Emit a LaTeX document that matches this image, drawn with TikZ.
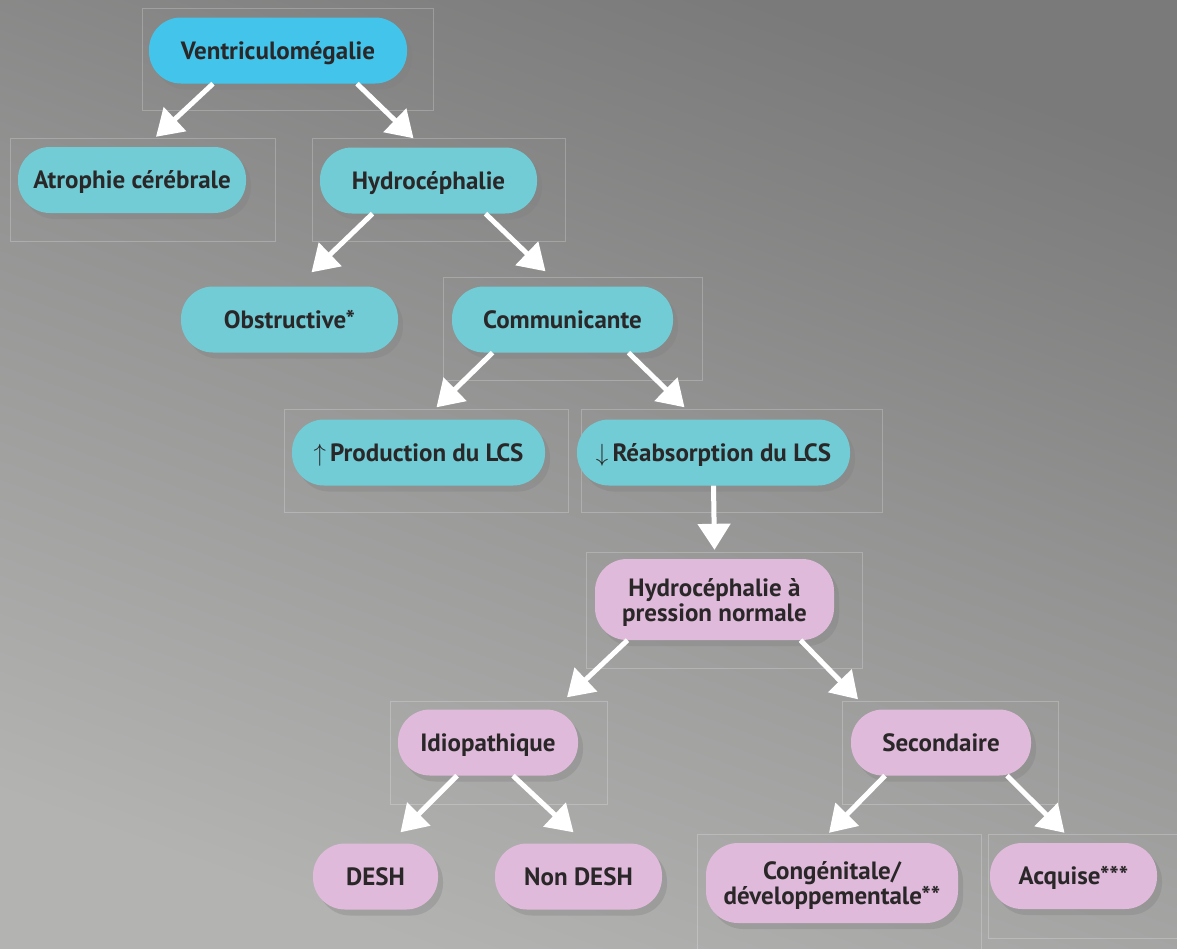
\documentclass[tikz,border=0pt]{standalone}
\usepackage{fontspec}
\setmainfont{PT Sans}
\usetikzlibrary{arrows.meta,shadows}
\definecolor{cyanbox}{HTML}{43C4EA}
\definecolor{tealbox}{HTML}{71CCD5}
\definecolor{pinkbox}{HTML}{E0BADA}
\definecolor{txt}{HTML}{2A2729}
\definecolor{bgtop}{HTML}{7A7A7A}
\definecolor{bgbot}{HTML}{B3B4B2}
\begin{document}
\begin{tikzpicture}[x=1pt,y=-1pt]
\tikzstyle{pill}=[rounded corners=32pt, minimum height=66pt, inner sep=0pt, align=center, text=txt, font=\fontsize{25}{25}\selectfont\bfseries, text height=19pt, text depth=2pt, drop shadow={shadow xshift=5pt,shadow yshift=-6pt,opacity=0.35}]
\tikzstyle{twoline}=[minimum height=81pt, text height=45pt, text depth=2pt]
\tikzstyle{frame}=[draw=white, draw opacity=0.22, line width=0.8pt]
\tikzstyle{arr}=[draw=white, line width=5pt, -{Triangle[length=26pt,width=32pt]}]
\useasboundingbox (0,0) rectangle (1177,948);
\shade[top color=bgtop, bottom color=bgbot, shading angle=-20] (0,0) rectangle (1177,948);

% frames
\draw[frame] (142,8) rectangle (433,110);
\draw[frame] (10,138) rectangle (275,241);
\draw[frame] (312,138) rectangle (565,241);
\draw[frame] (443,277) rectangle (702,380);
\draw[frame] (284,409) rectangle (568,512);
\draw[frame] (581,409) rectangle (882,512);
\draw[frame] (586,552) rectangle (862,668);
\draw[frame] (390,701) rectangle (607,804);
\draw[frame] (842,701) rectangle (1058,804);
\draw[frame] (697,834) rectangle (981,960);
\draw[frame] (988,834) rectangle (1190,938);

% nodes
\node[pill, fill=cyanbox, minimum width=258pt] (ventr) at (278,50.5) {Ventriculomégalie};
\node[pill, fill=tealbox, minimum width=228pt] (atro) at (132,180) {Atrophie cérébrale};
\node[pill, fill=tealbox, minimum width=217pt] (hydro) at (428.5,180.5) {Hydrocéphalie};
\node[pill, fill=tealbox, minimum width=217pt] (obstr) at (289.5,319.5) {Obstructive*};
\node[pill, fill=tealbox, minimum width=221pt] (comm) at (562.5,319.5) {Communicante};
\node[pill, fill=tealbox, minimum width=253pt] (prod) at (418.5,452.5) {$\uparrow$\,Production du LCS};
\node[pill, fill=tealbox, minimum width=273pt] (reab) at (713.5,452.5) {$\downarrow$\,Réabsorption du LCS};
\node[pill, twoline, fill=pinkbox, minimum width=239pt] (hpn) at (714.5,599.5) {Hydrocéphalie à\\pression normale};
\node[pill, fill=pinkbox, minimum width=180pt] (idio) at (488,742.5) {Idiopathique};
\node[pill, fill=pinkbox, minimum width=180pt] (sec) at (941,742.5) {Secondaire};
\node[pill, fill=pinkbox, minimum width=125pt] (desh) at (375.5,876.5) {DESH};
\node[pill, fill=pinkbox, minimum width=167pt] (nondesh) at (578.5,876.5) {Non DESH};
\node[pill, twoline, fill=pinkbox, minimum width=252pt, minimum height=80pt] (cong) at (832,883) {Congénitale/\\développementale**};
\node[pill, fill=pinkbox, minimum width=167pt] (acq) at (1073.5,876) {Acquise***};

% arrows
\draw[arr] ([xshift=-65pt]ventr.south) -- ([xshift=24pt,yshift=10pt]atro.north);
\draw[arr] ([xshift=79pt]ventr.south) -- ([xshift=-15pt,yshift=9pt]hydro.north);
\draw[arr] ([xshift=-56pt]hydro.south) -- ([xshift=22pt,yshift=14pt]obstr.north);
\draw[arr] ([xshift=57pt]hydro.south) -- ([xshift=-17pt,yshift=15pt]comm.north);
\draw[arr] ([xshift=-70pt]comm.south) -- ([xshift=18pt,yshift=12pt]prod.north);
\draw[arr] ([xshift=66pt]comm.south) -- ([xshift=-29pt,yshift=12pt]reab.north);
\draw[arr] (reab.south) -- ([yshift=9pt]hpn.north);
\draw[arr] ([xshift=-87pt]hpn.south) -- ([xshift=79pt,yshift=12pt]idio.north);
\draw[arr] ([xshift=86pt]hpn.south) -- ([xshift=-83pt,yshift=10pt]sec.north);
\draw[arr] ([xshift=-31pt]idio.south) -- ([xshift=25pt,yshift=11pt]desh.north);
\draw[arr] ([xshift=25pt]idio.south) -- ([xshift=-5pt,yshift=11pt]nondesh.north);
\draw[arr] ([xshift=-56pt]sec.south) -- ([xshift=-3pt,yshift=10pt]cong.north);
\draw[arr] ([xshift=66pt]sec.south) -- ([xshift=-9pt,yshift=10pt]acq.north);
\end{tikzpicture}
\end{document}
